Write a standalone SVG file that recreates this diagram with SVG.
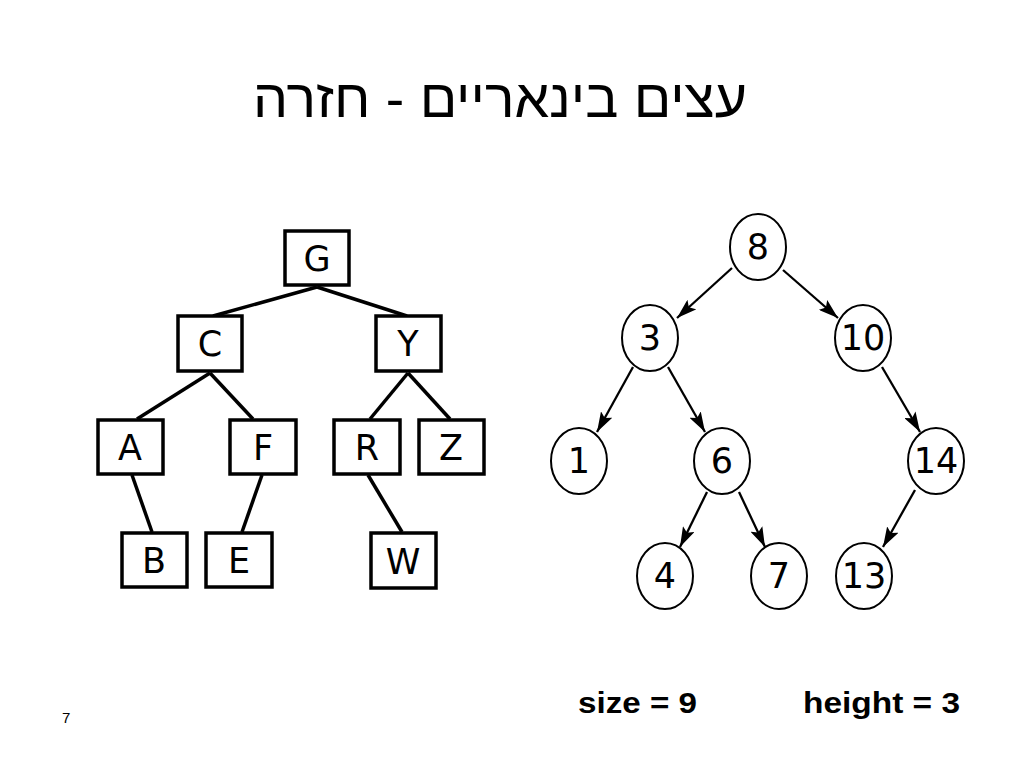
<svg xmlns="http://www.w3.org/2000/svg" width="1024" height="768" viewBox="0 0 1024 768">
<style>
.box{fill:#fff;stroke:#000;stroke-width:3.5}
.lt{font-family:"DejaVu Sans","Liberation Sans",sans-serif;font-size:35px;text-anchor:middle;fill:#000}
.ed{stroke:#000;stroke-width:3.5;fill:none}
.cir{fill:#fff;stroke:#000;stroke-width:2}
.num{font-family:"DejaVu Sans",sans-serif;font-size:35px;text-anchor:middle;fill:#000}
.ar{stroke:#000;stroke-width:2.3;fill:none;marker-end:url(#ah)}
.bt{font-family:"Liberation Sans",Arial,sans-serif;font-weight:bold;font-size:29px;fill:#000}
</style>
<defs>
<marker id="ah" viewBox="0 0 20 13" refX="20" refY="6.5" markerWidth="20" markerHeight="13" markerUnits="userSpaceOnUse" orient="auto">
<path d="M0,0 L20,6.5 L0,13 L4,6.5 Z" fill="#000"/>
</marker>
</defs>
<rect width="1024" height="768" fill="#fff"/>
<text x="500" y="117" font-family="'Liberation Sans','DejaVu Sans',sans-serif" font-size="54" text-anchor="middle" direction="rtl" textLength="494" lengthAdjust="spacingAndGlyphs">עצים בינאריים - חזרה</text>

<g id="left-edges">
<line class="ed" x1="317" y1="287" x2="213" y2="316"/>
<line class="ed" x1="317" y1="287" x2="407" y2="316"/>
<line class="ed" x1="210" y1="373" x2="137" y2="419"/>
<line class="ed" x1="210" y1="373" x2="253" y2="419"/>
<line class="ed" x1="408" y1="373" x2="370" y2="419"/>
<line class="ed" x1="408" y1="373" x2="450" y2="419"/>
<line class="ed" x1="132" y1="475" x2="152" y2="532"/>
<line class="ed" x1="262" y1="475" x2="242" y2="532"/>
<line class="ed" x1="368" y1="475" x2="402" y2="532"/>
</g>
<g id="nG"><rect class="box" x="285" y="231" width="64" height="54"/><text class="lt" x="317" y="271">G</text></g>
<g id="nC"><rect class="box" x="178" y="316" width="64" height="55"/><text class="lt" x="210" y="356">C</text></g>
<g id="nY"><rect class="box" x="376" y="316" width="65" height="55"/><text class="lt" x="408" y="356">Y</text></g>
<g id="nA"><rect class="box" x="98" y="420" width="65" height="54"/><text class="lt" x="130" y="460">A</text></g>
<g id="nF"><rect class="box" x="230" y="420" width="66" height="54"/><text class="lt" x="263" y="460">F</text></g>
<g id="nR"><rect class="box" x="334" y="420" width="66" height="54"/><text class="lt" x="367" y="460">R</text></g>
<g id="nZ"><rect class="box" x="419" y="420" width="65" height="54"/><text class="lt" x="451" y="460">Z</text></g>
<g id="nB"><rect class="box" x="122" y="533" width="65" height="54"/><text class="lt" x="154" y="573">B</text></g>
<g id="nE"><rect class="box" x="206" y="533" width="66" height="54"/><text class="lt" x="239" y="573">E</text></g>
<g id="nW"><rect class="box" x="371" y="533" width="65" height="55"/><text class="lt" x="403" y="574">W</text></g>

<g id="right-edges">
<line class="ar" x1="732" y1="268" x2="677" y2="318"/>
<line class="ar" x1="783" y1="270" x2="838" y2="318"/>
<line class="ar" x1="633" y1="367" x2="597" y2="432"/>
<line class="ar" x1="668" y1="367" x2="705" y2="432"/>
<line class="ar" x1="882" y1="367" x2="920" y2="432"/>
<line class="ar" x1="707" y1="492" x2="680" y2="547"/>
<line class="ar" x1="739" y1="492" x2="765" y2="547"/>
<line class="ar" x1="915" y1="490" x2="883" y2="547"/>
</g>
<g id="n8"><ellipse class="cir" cx="758" cy="247" rx="28" ry="33"/><text class="num" x="758" y="259">8</text></g>
<g id="n3"><ellipse class="cir" cx="650" cy="338" rx="28" ry="33"/><text class="num" x="650" y="350">3</text></g>
<g id="n10"><ellipse class="cir" cx="863" cy="338" rx="28" ry="33"/><text class="num" x="863" y="350">10</text></g>
<g id="n1"><ellipse class="cir" cx="579" cy="461" rx="28" ry="33"/><text class="num" x="579" y="473">1</text></g>
<g id="n6"><ellipse class="cir" cx="722" cy="461" rx="28" ry="33"/><text class="num" x="722" y="473">6</text></g>
<g id="n14"><ellipse class="cir" cx="936" cy="461" rx="28" ry="33"/><text class="num" x="936" y="473">14</text></g>
<g id="n4"><ellipse class="cir" cx="665" cy="576" rx="28" ry="33"/><text class="num" x="665" y="588">4</text></g>
<g id="n7"><ellipse class="cir" cx="779" cy="576" rx="28" ry="33"/><text class="num" x="779" y="588">7</text></g>
<g id="n13"><ellipse class="cir" cx="864" cy="576" rx="28" ry="33"/><text class="num" x="864" y="588">13</text></g>

<text class="bt" x="578" y="713" textLength="119" lengthAdjust="spacingAndGlyphs">size = 9</text>
<text class="bt" x="803" y="713" textLength="157" lengthAdjust="spacingAndGlyphs">height = 3</text>
<text x="62" y="723" font-family="'Liberation Sans',Arial,sans-serif" font-size="15">7</text>
</svg>
